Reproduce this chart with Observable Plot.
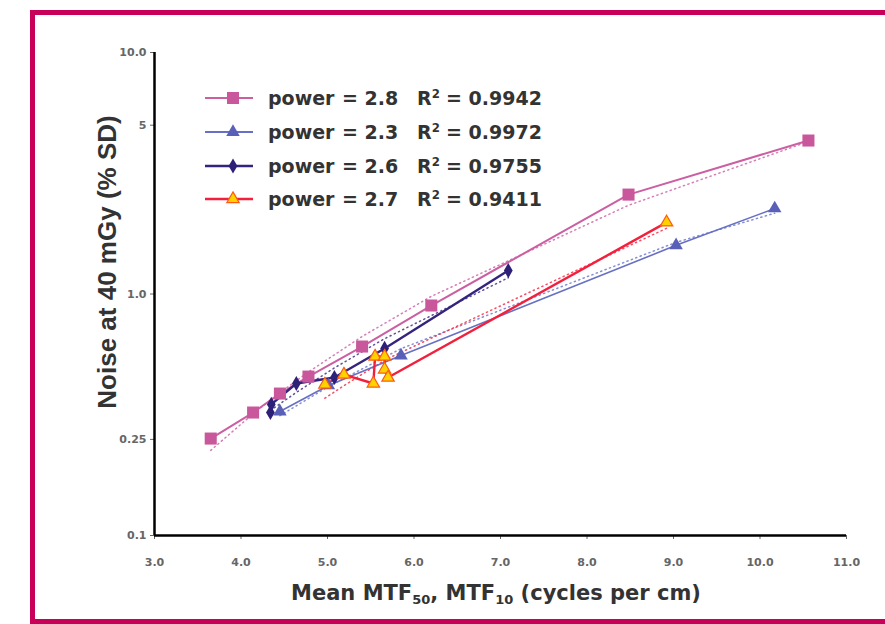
<!DOCTYPE html>
<html><head><meta charset="utf-8">
<script src="https://cdn.jsdelivr.net/npm/d3@7"></script>
<script src="https://cdn.jsdelivr.net/npm/@observablehq/plot@0.6"></script>
<style>
html,body{margin:0;padding:0;}
body{width:885px;height:624px;overflow:hidden;background:#fff;position:relative;font-family:"DejaVu Sans",sans-serif;}
#border{position:absolute;left:30px;top:10px;width:900px;height:614px;border:5px solid #c8005a;border-right:none;box-sizing:border-box;}
#chart{position:absolute;left:0;top:0;}
.lab{position:absolute;font-weight:bold;color:#333;white-space:nowrap;line-height:1;}
.leg{position:absolute;font-weight:bold;color:#333;white-space:nowrap;font-size:19px;line-height:22px;}
sub{font-size:0.62em;vertical-align:baseline;position:relative;top:0.3em;}
sup{font-size:0.62em;vertical-align:baseline;position:relative;top:-0.6em;}
</style></head>
<body>
<div id="border"></div>
<div id="chart"></div>
<div id="legend"></div>
<div class="lab" id="xlab" style="font-size:21px;left:496px;top:593px;transform:translate(-50%,-50%);">Mean MTF<sub>50</sub>, MTF<sub>10</sub> (cycles per cm)</div>
<div class="lab" id="ylab" style="font-family:'Liberation Sans',Arial,sans-serif;font-size:26px;left:107px;top:262px;transform:translate(-50%,-50%) rotate(-90deg);">Noise at 40 mGy (% SD)</div>
<script>
// ---- data ----
const seriesNames = ["power = 2.8", "power = 2.3", "power = 2.6", "power = 2.7"];
const legendPowers = ["2.8", "2.3", "2.6", "2.7"];
const legendR2 = ["0.9942", "0.9972", "0.9755", "0.9411"];

const pinkX = [3.65, 4.14, 4.45, 4.78, 5.40, 6.20, 8.48, 10.56];
const pinkY = [0.252, 0.323, 0.387, 0.455, 0.606, 0.896, 2.58, 4.32];

const blueX = [4.45, 5.01, 5.85, 9.03, 10.17];
const blueY = [0.326, 0.418, 0.556, 1.59, 2.26];

const navyX = [4.34, 4.35, 4.64, 5.08, 5.66, 7.09];
const navyY = [0.323, 0.349, 0.426, 0.451, 0.595, 1.25];

const orangeX = [4.97, 5.19, 5.53, 5.55, 5.66, 5.66, 5.70, 8.92];
const orangeY = [0.422, 0.464, 0.426, 0.551, 0.551, 0.487, 0.451, 1.98];

const xTicks = [3, 4, 5, 6, 7, 8, 9, 10, 11];
const yTicks = [0.1, 0.25, 1, 5, 10];
const yTickLabels = ["0.1", "0.25", "1.0", "5", "10.0"];

// ---- styles ----
const styles = [
  {stroke: "#cc5ea2", fill: "#c9579c", symbol: "square", r: 6.8, sw: 2, mstroke: "none"},
  {stroke: "#6670c4", fill: "#5a5fb8", symbol: "triangle", r: 5.0, sw: 1.6, mstroke: "none"},
  {stroke: "#34247e", fill: "#2e1f78", symbol: "diamond", r: 4.6, sw: 2.4, mstroke: "none"},
  {stroke: "#f2203c", fill: "#ffd200", symbol: "triangle", r: 4.6, sw: 2.4, mstroke: "#ff5a10"}
];
const xsAll = [pinkX, blueX, navyX, orangeX];
const ysAll = [pinkY, blueY, navyY, orangeY];

const rows = [];
xsAll.forEach((xs, s) => xs.forEach((x, i) => rows.push({s, order: i, x, y: ysAll[s][i]})));

// power-law fit (least squares on logs), evaluated at the data x values
function powerFit(xs, ys) {
  const lx = xs.map(Math.log), ly = ys.map(Math.log);
  const mx = d3.mean(lx), my = d3.mean(ly);
  const b = d3.sum(lx, (v, i) => (v - mx) * (ly[i] - my)) / d3.sum(lx, v => (v - mx) ** 2);
  const a = my - b * mx;
  return x => Math.exp(a + b * Math.log(x));
}
const trendRows = [];
xsAll.forEach((xs, s) => {
  const f = powerFit(xs, ysAll[s]);
  Array.from(new Set(xs)).sort((a, b) => a - b).forEach(x => trendRows.push({s, x, y: f(x)}));
});

const marks = [
  Plot.axisX({ticks: xTicks, tickFormat: d => d.toFixed(1), tickSize: 4, tickPadding: 19, fontSize: 11, color: "#666", label: null}),
  Plot.axisY({ticks: yTicks, tickFormat: d => yTickLabels[yTicks.indexOf(d)], tickSize: 4, tickPadding: 4, fontSize: 11, color: "#666", label: null}),
];
styles.forEach((st, s) => {
  marks.push(Plot.line(trendRows.filter(d => d.s === s), {x: "x", y: "y", stroke: st.stroke, strokeWidth: 1.5, strokeDasharray: "1.2,3.5", strokeOpacity: 0.8}));
});
styles.forEach((st, s) => {
  marks.push(Plot.line(rows.filter(d => d.s === s), {x: "x", y: "y", stroke: st.stroke, strokeWidth: st.sw}));
});
styles.forEach((st, s) => {
  marks.push(Plot.dot(rows.filter(d => d.s === s), {x: "x", y: "y", symbol: st.symbol, r: st.r, fill: st.fill, stroke: st.mstroke, strokeWidth: 1.2}));
});
marks.push(Plot.ruleX([3], {stroke: "#000", strokeWidth: 2.5}));
marks.push(Plot.ruleY([0.1], {stroke: "#000", strokeWidth: 2.5}));

const chart = Plot.plot({
  width: 885, height: 624,
  marginLeft: 154, marginRight: 39, marginTop: 52, marginBottom: 89,
  style: {background: "transparent", fontFamily: "DejaVu Sans", fontWeight: "bold", overflow: "visible"},
  x: {domain: [3, 11]},
  y: {type: "log", domain: [0.1, 10]},
  marks
});
document.getElementById("chart").appendChild(chart);

// ---- legend ----
const legendTop = [98, 132, 166, 199];
const leg = document.getElementById("legend");
styles.forEach((st, i) => {
  const cy = legendTop[i];
  const sym = {square: d3.symbolSquare, triangle: d3.symbolTriangle, diamond: d3.symbolDiamond}[st.symbol];
  const path = d3.symbol(sym, Math.PI * st.r * st.r)();
  const sw = document.createElement("div");
  sw.style.cssText = `position:absolute;left:203px;top:${cy - 10}px;width:52px;height:20px;`;
  sw.innerHTML = `<svg width="52" height="20"><line x1="2" x2="50" y1="10" y2="10" stroke="${st.stroke}" stroke-width="${Math.max(2, st.sw)}"/><path d="${path}" transform="translate(30,10)" fill="${st.fill}" stroke="${st.mstroke}" stroke-width="1.2"/></svg>`;
  leg.appendChild(sw);
  const parts = [
    [268, "power"],
    [342, "= " + legendPowers[i]],
    [417, "R<sup>2</sup>"],
    [446, "= " + legendR2[i]]
  ];
  parts.forEach(([x, html]) => {
    const d = document.createElement("div");
    d.className = "leg";
    d.style.left = x + "px";
    d.style.top = (cy - 11) + "px";
    d.innerHTML = html;
    leg.appendChild(d);
  });
});
</script>
</body></html>
